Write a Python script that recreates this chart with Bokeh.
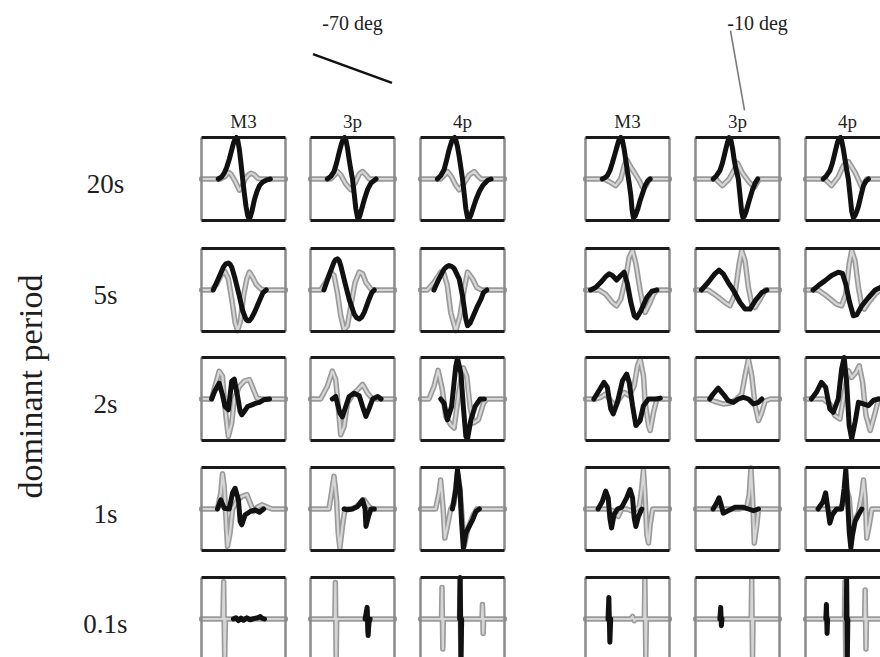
import math
import numpy as np
from bokeh.plotting import figure
from bokeh.layouts import row, column
from bokeh.models import Range1d, Spacer
from bokeh.core.properties import value
from bokeh.embed import file_html
from bokeh.resources import INLINE

# ---------------- labels ----------------
PERIODS = ["20s", "5s", "2s", "1s", "0.1s"]
STATIONS = ["M3", "3p", "4p"]
AZIMUTHS = [-70, -10]
AZIMUTH_LABELS = ["-70 deg", "-10 deg"]
Y_TITLE = "dominant period"

# ---------------- waveforms (t: 0..100 across panel, amplitude: -1..1) ----------------
# K = black trace, G = grey trace ; name: <trace><period>_<station>_<azimuth>
K20_M3_70 = [(20,0),(24,0.05),(27,0.14),(30,0.28),(33,0.47),(36,0.7),(38,0.86),(40,0.97),(41.5,1.0),(43,0.95),(45,0.72),(47,0.38),(49,0.0),(51,-0.35),(53,-0.66),(55,-0.88),(56.5,-0.95),(58,-0.92),(60,-0.78),(63,-0.5),(66,-0.3),(69,-0.16),(73,-0.07),(78,-0.02),(82,0)]
G20_M3_70 = [(0,0),(22,0),(28,0.06),(32,0.16),(35,0.12),(40,-0.05),(45,-0.27),(48,-0.2),(52,0.0),(56,0.1),(59,0.14),(63,0.1),(67,0.02),(70,0),(100,0)]
K20_3p_70 = [(20,0),(24,0.06),(28,0.18),(31,0.38),(34,0.63),(37,0.86),(39,0.97),(40.5,1.0),(42,0.95),(44,0.75),(46,0.47),(48,0.22),(50,0.0),(52,-0.35),(54,-0.72),(56,-0.93),(57.5,-0.95),(59,-0.87),(61,-0.72),(64,-0.5),(68,-0.25),(72,-0.1),(78,0)]
G20_3p_70 = [(0,0),(24,0),(29,0.1),(32,0.18),(36,0.1),(42,-0.12),(48,-0.26),(53,-0.1),(58,0.12),(62,0.18),(66,0.1),(70,0),(100,0)]
K20_4p_70 = [(20,0),(24,0.08),(28,0.22),(31,0.45),(34,0.7),(37,0.9),(39,0.98),(40.5,1.0),(42,0.95),(44,0.78),(46,0.55),(48,0.28),(50,0.0),(52,-0.35),(54,-0.72),(56,-0.93),(58,-0.95),(60,-0.87),(63,-0.68),(66,-0.5),(70,-0.3),(74,-0.16),(80,-0.03),(84,0)]
G20_4p_70 = [(0,0),(24,0),(29,0.1),(32,0.18),(37,0.05),(42,-0.15),(46,-0.26),(52,-0.1),(58,0.1),(64,0.18),(68,0.08),(72,0),(100,0)]
K20_M3_10 = [(20,0),(23,0.03),(26,0.08),(29,0.2),(32,0.39),(35,0.6),(38,0.82),(40,0.95),(42,1.0),(44,0.93),(46,0.72),(48,0.45),(50,0.16),(52,-0.1),(54,-0.4),(55.5,-0.75),(57,-0.93),(59,-0.9),(62,-0.74),(65,-0.52),(67,-0.4),(71,-0.16),(74,-0.05),(77,0)]
G20_M3_10 = [(0,0),(22,0),(28,-0.06),(36,-0.16),(42,0.0),(46,0.32),(49,0.47),(52,0.36),(55,0.25),(58,0.16),(64,-0.04),(68,-0.2),(72,-0.16),(76,0),(100,0)]
K20_3p_10 = [(21,0),(25,0.08),(29,0.2),(32,0.38),(35,0.63),(38,0.88),(40,1.0),(42,0.95),(44,0.75),(46,0.47),(48,0.25),(51,0.0),(53,-0.4),(55,-0.8),(56.5,-0.93),(58,-0.9),(60,-0.8),(62,-0.66),(65,-0.45),(68,-0.25),(71,-0.1),(74,0)]
G20_3p_10 = [(0,0),(24,0),(32,-0.16),(40,0.0),(46,0.22),(50,0.38),(56,0.14),(64,-0.08),(70,-0.2),(76,0),(100,0)]
K20_4p_10 = [(21,0),(25,0.08),(29,0.2),(32,0.38),(35,0.63),(38,0.88),(40,0.98),(41.5,1.0),(43,0.93),(45,0.72),(47,0.47),(49,0.22),(51,0.0),(53,-0.38),(55,-0.78),(57,-0.93),(59,-0.88),(61,-0.78),(63,-0.66),(66,-0.4),(69,-0.16),(72,-0.05),(75,0)]
G20_4p_10 = [(0,0),(23,0),(31,-0.16),(39,0.05),(45,0.32),(51,0.42),(59,0.16),(67,-0.2),(73,0),(100,0)]

K05_M3_70 = [(14,0),(20,0.27),(26,0.55),(29,0.63),(32,0.65),(34,0.62),(36,0.55),(40,0.27),(45,-0.14),(49,-0.5),(53,-0.71),(55,-0.74),(57,-0.74),(60,-0.66),(63,-0.54),(69,-0.26),(73,-0.07),(77,0)]
G05_M3_70 = [(0,0),(12,0),(18,0.14),(24,0.39),(28,0.44),(32,0.27),(36,-0.22),(40,-0.78),(43,-0.98),(46,-0.78),(50,-0.14),(54,0.27),(57,0.43),(61,0.3),(65,0.14),(71,0.02),(75,0),(100,0)]
K05_3p_70 = [(16,0),(22,0.35),(28,0.67),(30,0.73),(32,0.75),(34,0.71),(36,0.59),(41,0.18),(46,-0.22),(52,-0.58),(55,-0.67),(58,-0.7),(61,-0.65),(64,-0.54),(69,-0.26),(73,-0.06),(76,0)]
G05_3p_70 = [(0,0),(12,0),(18,0.18),(24,0.43),(28,0.35),(32,-0.06),(36,-0.62),(40,-0.96),(44,-0.86),(48,-0.38),(53,0.18),(58,0.43),(62,0.39),(66,0.18),(72,0.02),(76,0),(100,0)]
K05_4p_70 = [(16,0),(22,0.27),(28,0.5),(31,0.56),(34,0.59),(37,0.57),(40,0.52),(46,0.27),(50,-0.14),(54,-0.7),(56,-0.86),(59,-0.8),(62,-0.66),(68,-0.38),(72,-0.22),(75,-0.06),(79,0)]
G05_4p_70 = [(0,0),(8,0),(16,0.18),(24,0.43),(28,0.39),(32,0.1),(36,-0.54),(42,-0.98),(47,-0.62),(52,0.02),(56,0.43),(62,0.27),(67,0.06),(73,0),(100,0)]
K05_M3_10 = [(6,0),(12,0.06),(18,0.18),(24,0.32),(28,0.39),(32,0.35),(37,0.24),(42,0.35),(46,0.43),(50,0.14),(54,-0.3),(58,-0.62),(61,-0.67),(66,-0.5),(73,-0.18),(79,-0.03),(85,0)]
G05_M3_10 = [(0,0),(16,0),(24,-0.1),(32,-0.3),(37,-0.38),(42,-0.22),(48,0.3),(52,0.79),(56,0.95),(60,0.63),(65,0.0),(69,-0.42),(71,-0.54),(76,-0.34),(81,-0.1),(85,0),(100,0)]
K05_3p_10 = [(7,0),(15,0.18),(23,0.39),(28,0.48),(33,0.39),(39,0.18),(45,0.0),(53,-0.3),(59,-0.46),(65,-0.46),(71,-0.26),(79,-0.06),(85,0)]
G05_3p_10 = [(0,0),(15,0),(25,-0.14),(35,-0.3),(41,-0.38),(47,-0.1),(52,0.63),(55,0.95),(59,0.7),(63,0.06),(67,-0.34),(71,-0.42),(77,-0.22),(83,0),(100,0)]
K05_4p_10 = [(9,0),(15,0.1),(23,0.22),(31,0.35),(39,0.43),(44,0.4),(48,0.14),(52,-0.26),(57,-0.62),(61,-0.6),(67,-0.38),(75,-0.18),(83,0),(89,0.06)]
G05_4p_10 = [(0,0),(15,0),(25,-0.14),(37,-0.34),(43,-0.38),(48,-0.1),(52,0.63),(55,0.95),(59,0.7),(63,0.06),(67,-0.38),(70,-0.46),(75,-0.3),(83,-0.1),(89,0),(100,0)]

K02_M3_70 = [(12,0),(16,0.2),(21,0.38),(25,0.1),(28,-0.18),(32,-0.26),(36,0.43),(39,0.48),(43,0.06),(46,-0.3),(48,-0.38),(51,-0.3),(55,-0.18),(60,-0.14),(65,-0.1),(69,-0.08),(74,-0.02),(81,0)]
G02_M3_70 = [(0,0),(12,0),(16,0.3),(21,0.67),(25,0.55),(27,0.0),(30,-0.58),(32,-0.9),(36,-0.58),(39,0.0),(45,0.3),(51,0.43),(57,0.47),(61,0.27),(66,0.02),(71,0),(100,0)]
K02_3p_70 = [(26,0),(30,0.06),(35,-0.34),(38,-0.43),(42,-0.18),(46,0.06),(52,0.14),(58,0.08),(62,-0.18),(66,-0.42),(70,-0.22),(74,0),(80,0.06),(84,0)]
G02_3p_70 = [(0,0),(12,0),(20,0.3),(26,0.67),(30,0.47),(33,-0.18),(36,-0.86),(40,-0.66),(44,-0.1),(50,0.1),(56,0.22),(62,0.35),(68,0.14),(74,0),(100,0)]
K02_4p_70 = [(24,0),(28,-0.1),(32,-0.5),(37,-0.18),(42,0.79),(44,0.98),(48,0.63),(51,-0.18),(54,-0.9),(56,-0.96),(60,-0.5),(65,-0.18),(71,0),(76,0)]
G02_4p_70 = [(0,0),(10,0),(16,0.3),(21,0.69),(26,0.22),(30,-0.42),(36,-0.62),(40,-0.7),(46,0.22),(51,0.75),(55,0.55),(59,-0.18),(63,-0.58),(69,-0.5),(75,-0.1),(79,0),(100,0)]
K02_M3_10 = [(10,0),(16,0.2),(22,0.4),(26,0.28),(30,-0.24),(33,-0.36),(38,-0.08),(44,0.44),(49,0.6),(52,0.4),(56,-0.16),(60,-0.64),(65,-0.52),(69,-0.16),(75,0),(85,0),(89,0.02)]
G02_M3_10 = [(0,0),(12,0),(18,0.04),(24,0.12),(30,-0.04),(35,-0.16),(40,0),(46,0.16),(52,0.08),(58,0.32),(62,0.8),(65,0.96),(69,0.56),(71,-0.08),(75,-0.64),(77,-0.76),(81,-0.32),(85,0),(100,0)]
K02_3p_10 = [(17,0),(21,0.12),(27,0.26),(33,0.12),(39,-0.04),(45,-0.08),(51,0),(57,0.04),(63,0),(69,-0.12),(75,-0.08),(79,0)]
G02_3p_10 = [(0,0),(15,0),(23,-0.06),(33,-0.12),(41,-0.1),(49,0),(55,0.12),(59,0.56),(63,0.96),(67,0.56),(71,-0.16),(75,-0.52),(79,-0.32),(83,-0.05),(89,0),(100,0)]
K02_4p_10 = [(7,0),(13,0.16),(19,0.4),(24,0.28),(29,-0.24),(33,-0.32),(39,0),(43,0.72),(46,1.0),(49,0.4),(52,-0.64),(55,-0.96),(59,-0.56),(63,-0.08),(69,-0.12),(75,-0.16),(81,-0.03),(87,0)]
G02_4p_10 = [(0,0),(21,0),(29,-0.12),(35,-0.4),(41,-0.48),(45,0),(51,0.68),(55,0.52),(60,0.64),(64,0.8),(68,0.4),(72,-0.4),(77,-0.76),(82,-0.4),(87,0),(100,0)]

K01_M3_70 = [(19,0),(23,0.22),(27,0.02),(33,0),(37,0.39),(40,0.5),(44,0.22),(46,-0.3),(48,-0.38),(52,-0.14),(58,-0.06),(64,-0.02),(69,-0.08),(74,0)]
G01_M3_70 = [(0,0),(19,0),(23,0.39),(25,0.85),(27,0.55),(29,-0.18),(31,-0.9),(34,-0.58),(37,0),(42,0.18),(48,0.3),(54,0.35),(58,0.14),(62,-0.06),(67,0.05),(72,0.1),(78,0.05),(84,0),(100,0)]
K01_3p_70 = [(40,0),(44,-0.02),(50,0),(56,0.06),(62,0.22),(65,0),(66,-0.42),(69,-0.18),(72,0),(76,0)]
G01_3p_70 = [(0,0),(22,0),(25,0.39),(28,0.79),(31,0.22),(33,-0.58),(35,-0.94),(38,-0.42),(41,0),(48,0),(54,0.05),(60,0.16),(64,0.22),(68,0.1),(73,0),(100,0)]
K01_4p_70 = [(38,0),(42,0.47),(44,0.95),(47,0.47),(49,-0.34),(51,-0.94),(54,-0.58),(58,-0.42),(62,-0.26),(66,-0.06),(70,0)]
G01_4p_70 = [(0,0),(18,0),(22,0.39),(24,0.7),(27,0),(29,-0.7),(32,-0.42),(36,0),(40,0.14),(44,0.87),(47,0.47),(50,-0.34),(52,-0.9),(56,-0.5),(62,-0.18),(67,0),(100,0)]
K01_M3_10 = [(15,0),(20,0.18),(24,0.43),(27,0.27),(29,-0.22),(31,-0.46),(34,-0.14),(38,0),(43,0.04),(49,0.27),(53,0.47),(56,0.27),(58,-0.22),(60,-0.42),(63,-0.18),(67,0)]
G01_M3_10 = [(0,0),(27,0),(35,-0.06),(39,-0.18),(43,0),(49,0),(57,-0.06),(64,0.06),(67,0.5),(69,0.95),(71,0.27),(73,-0.62),(75,-0.82),(77,-0.38),(80,0),(100,0)]
K01_3p_10 = [(21,0),(25,0.14),(28,0.27),(30,0.14),(33,-0.1),(37,-0.06),(47,0.04),(57,0.04),(63,0),(69,-0.04),(75,0)]
G01_3p_10 = [(0,0),(51,0),(61,0.04),(64,0.35),(66,0.99),(68,0.27),(70,-0.82),(73,-0.38),(75,0),(79,0),(100,0)]
K01_4p_10 = [(15,0),(21,0.18),(24,0.39),(26,0.1),(29,-0.34),(32,-0.14),(37,0),(43,0),(46,0.5),(48,0.95),(50,0.27),(52,-0.54),(54,-0.94),(56,-0.62),(59,-0.3),(63,-0.14),(67,0)]
G01_4p_10 = [(0,0),(41,0),(45,0.14),(49,0.47),(52,0.27),(55,-0.46),(58,-0.3),(63,-0.1),(67,0.35),(69,0.7),(71,0.27),(73,-0.7),(76,-0.38),(79,0),(100,0)]

K00_M3_70 = [(38,0),(41,0.03),(44,-0.04),(47,0.02),(50,-0.03),(54,0.03),(58,-0.02),(62,0.01),(67,0.03),(70,0.06),(72,0.02),(75,0)]
G00_M3_70 = [(0,0),(25.5,0),(26.4,0.9),(27.6,-1.0),(28.5,0),(100,0)]
K00_3p_70 = [(65,0),(67.4,0.28),(68.6,-0.4),(69.6,-0.08),(71,0)]
G00_3p_70 = [(0,0),(29,0),(29.6,0.88),(30.6,-1.0),(31.2,0),(66.5,0),(67.4,0.2),(68.4,-0.3),(69.5,0),(100,0)]
K00_4p_70 = [(46.5,0),(47.2,1.0),(48.2,-0.9),(49,0)]
G00_4p_70 = [(0,0),(25,0),(25.6,0.76),(26.6,-0.72),(27.2,0),(46.5,0),(47.1,0.97),(48.1,-1.0),(48.7,0),(73.2,0),(73.8,0.35),(74.6,-0.35),(75.2,0),(100,0)]
K00_M3_10 = [(26.8,0),(27.8,0.52),(29,-0.56),(30,0)]
G00_M3_10 = [(0,0),(54,0),(56,0.06),(58,-0.04),(60,0),(70,0),(70.7,0.96),(71.8,-0.95),(72.5,0),(100,0)]
K00_3p_10 = [(29,0),(30,0.28),(30.8,-0.16),(31.5,0)]
G00_3p_10 = [(0,0),(66.3,0),(66.9,0.95),(67.9,-0.98),(68.5,0),(100,0)]
K00_4p_10 = [(24.2,0),(24.9,0.35),(25.7,-0.35),(26.3,0),None,(48.4,0),(49,0.97),(49.8,-1.0),(50.4,0)]
G00_4p_10 = [(0,0),(46.4,0),(47,0.9),(48,-1.0),(48.6,0),(70.4,0),(71,0.7),(72,-0.72),(72.6,0),(100,0)]

BLACK = [
    [K20_M3_70, K20_3p_70, K20_4p_70, K20_M3_10, K20_3p_10, K20_4p_10],
    [K05_M3_70, K05_3p_70, K05_4p_70, K05_M3_10, K05_3p_10, K05_4p_10],
    [K02_M3_70, K02_3p_70, K02_4p_70, K02_M3_10, K02_3p_10, K02_4p_10],
    [K01_M3_70, K01_3p_70, K01_4p_70, K01_M3_10, K01_3p_10, K01_4p_10],
    [K00_M3_70, K00_3p_70, K00_4p_70, K00_M3_10, K00_3p_10, K00_4p_10],
]
GREY = [
    [G20_M3_70, G20_3p_70, G20_4p_70, G20_M3_10, G20_3p_10, G20_4p_10],
    [G05_M3_70, G05_3p_70, G05_4p_70, G05_M3_10, G05_3p_10, G05_4p_10],
    [G02_M3_70, G02_3p_70, G02_4p_70, G02_M3_10, G02_3p_10, G02_4p_10],
    [G01_M3_70, G01_3p_70, G01_4p_70, G01_M3_10, G01_3p_10, G01_4p_10],
    [G00_M3_70, G00_3p_70, G00_4p_70, G00_M3_10, G00_3p_10, G00_4p_10],
]

# ---------------- layout (pixels) ----------------
WIN_W, WIN_H = 880, 657
BOX_W, BOX_H = 84, 83
PAD = 3
COL_LEFT = [201, 310, 420, 585, 695, 805]
ROW_TOP = [137, 248, 357, 467, 577]
LEFT_W = COL_LEFT[0] - PAD
HEAD_H = ROW_TOP[0] - PAD
FONT = value("Liberation Serif")
INK = "#1e1e1e"


def split(pts):
    xs, ys = [], []
    for pt in pts:
        if pt is None:
            xs.append(np.nan); ys.append(np.nan)
        else:
            xs.append(pt[0]); ys.append(pt[1])
    return np.array(xs, dtype=float), np.array(ys, dtype=float)


def base_fig(width, height, xr, yr):
    p = figure(width=width, height=height, x_range=xr, y_range=yr,
               output_backend="svg", toolbar_location=None, tools="",
               x_axis_type=None, y_axis_type=None, min_border=0,
               outline_line_color=None, background_fill_color="white",
               border_fill_color="white")
    return p


def panel(k, g, width, height):
    kx = BOX_W / 100.0
    ky = BOX_H / 2.0
    x0 = -PAD / kx
    y1 = 1 + PAD / ky
    p = base_fig(width, height, Range1d(x0, x0 + width / kx), Range1d(y1 - height / ky, y1))
    gx, gy = split(g)
    p.line(gx, gy, line_color="#9a9a9a", line_width=5.5, line_join="round", line_cap="round")
    p.line(gx, gy, line_color="#d6d6d6", line_width=2.2, line_join="round")
    kxs, kys = split(k)
    p.line(kxs, kys, line_color="#111111", line_width=5, line_join="round", line_cap="round")
    # panel frame: grey sides, black top / bottom
    p.multi_line([[0, 0], [100, 100]], [[-1, 1], [-1, 1]], line_color="#8a8a8a", line_width=2.5)
    p.multi_line([[0, 100], [0, 100]], [[1, 1], [-1, -1]], line_color="#1a1a1a", line_width=3)
    return p


# header
head = base_fig(WIN_W, HEAD_H, Range1d(0, WIN_W), Range1d(HEAD_H, 0))
centers = [c + BOX_W / 2 for c in COL_LEFT]
head.text(x=centers, y=[121] * 6, text=STATIONS * 2, text_font=FONT,
          text_font_size="19px", text_align="center", text_baseline="middle", text_color=INK)
head.text(x=[352, 757], y=[22, 22], text=AZIMUTH_LABELS, text_font=FONT,
          text_font_size="20px", text_align="center", text_baseline="middle", text_color=INK)
line_centers = [(352, 68), (737, 70)]
line_lengths = [84, 81]
line_styles = [("#111111", 2.6), ("#7a7a7a", 1.6)]
for az, (cx, cy), L, (col, lw) in zip(AZIMUTHS, line_centers, line_lengths, line_styles):
    th = math.radians(abs(az))
    dx, dy = math.sin(th) * L / 2, math.cos(th) * L / 2
    head.line([cx - dx, cx + dx], [cy - dy, cy + dy], line_color=col, line_width=lw)

# left labels
left = base_fig(LEFT_W, WIN_H - HEAD_H, Range1d(0, LEFT_W), Range1d(WIN_H, HEAD_H))
left.text(x=[105] * 5, y=[t + BOX_H / 2 + 5 for t in ROW_TOP], text=PERIODS, text_font=FONT,
          text_font_size="27px", text_align="center", text_baseline="middle", text_color=INK)
left.text(x=[30], y=[386], text=[Y_TITLE], angle=math.pi / 2, text_font=FONT,
          text_font_size="34px", text_align="center", text_baseline="middle", text_color=INK)

# panel grid
grid_rows = []
for r in range(5):
    top = ROW_TOP[r] - PAD
    h = min(BOX_H + 2 * PAD, WIN_H - top)
    children = []
    x = LEFT_W
    for c in range(6):
        lft = COL_LEFT[c] - PAD
        if lft > x:
            children.append(Spacer(width=lft - x, height=h))
        w = min(BOX_W + 2 * PAD, WIN_W - lft)
        children.append(panel(BLACK[r][c], GREY[r][c], w, h))
        x = lft + w
    grid_rows.append(row(children))
    if r < 4:
        nxt = ROW_TOP[r + 1] - PAD
        grid_rows.append(Spacer(width=WIN_W - LEFT_W, height=nxt - (top + h)))

layout = column(head, row(left, column(grid_rows)))

open("out.html", "w").write(file_html(layout, INLINE))
